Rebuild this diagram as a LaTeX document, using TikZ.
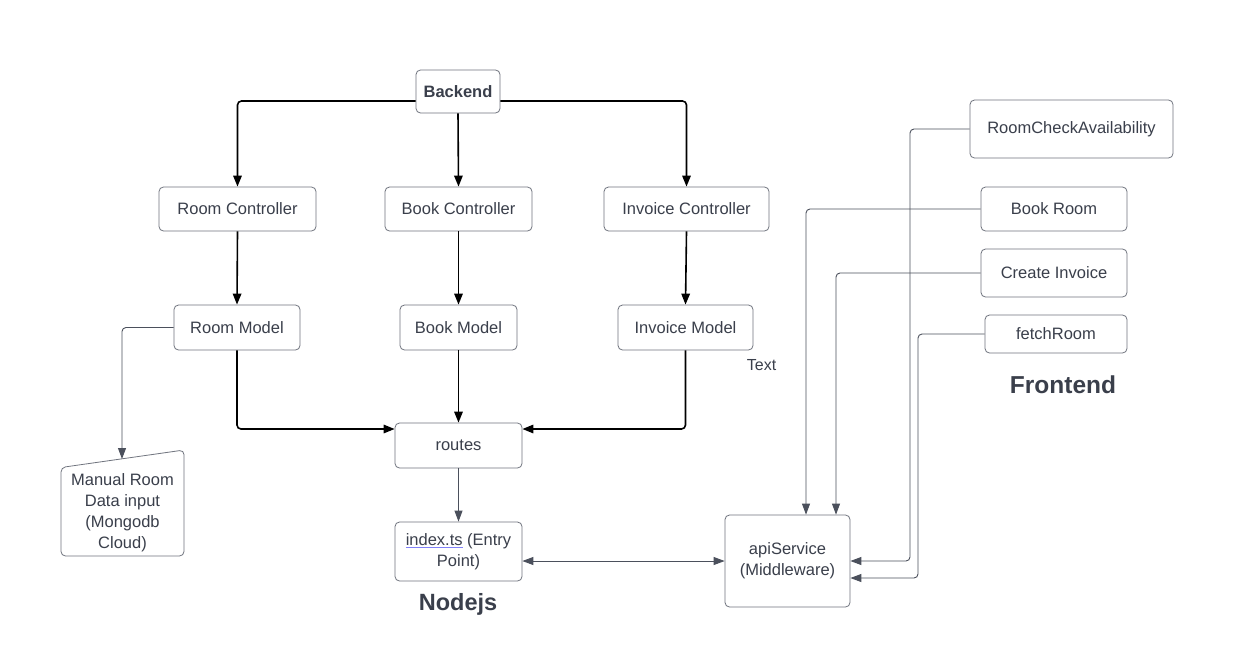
\documentclass[tikz,border=0pt]{standalone}
\usepackage{fontspec}
\setmainfont{Liberation Sans}
\usetikzlibrary{arrows.meta,calc}
\definecolor{txt}{HTML}{3A3F4B}
\definecolor{brd}{HTML}{70747E}
\definecolor{thin}{HTML}{4B505C}
\definecolor{ulc}{HTML}{8080F8}
\newcommand\blueul[1]{\setbox0\hbox{#1}\rlap{\color{ulc}\rule[-3pt]{\wd0}{1pt}}\box0\relax}
\begin{document}
\begin{tikzpicture}[x=1pt,y=-1pt,
  box/.style={draw=brd, line width=0.8pt, rounded corners=4.5pt, text=txt,
     font=\fontsize{16.5}{21}\selectfont, align=center, inner sep=2pt},
  lbl/.style={text=txt, inner sep=0pt},
  bk/.style={draw=black, line width=1.6pt, rounded corners=4pt,
     -{Triangle[length=11pt,width=8.5pt]}},
  tn/.style={draw=thin, line width=0.9pt, rounded corners=4pt,
     -{Triangle[length=11pt,width=8pt]}},
  tnb/.style={draw=thin, line width=0.9pt,
     {Triangle[length=11pt,width=8pt]}-{Triangle[length=11pt,width=8pt]}}]
\useasboundingbox (0,0) rectangle (1249,667);
\fill[white] (0,0) rectangle (1249,667);

% Backend tree
\node[box, minimum width=84pt, minimum height=43pt, font=\fontsize{16.5}{21}\selectfont\bfseries] (backend) at (458,91.5) {Backend};
\node[box, minimum width=157pt, minimum height=44pt] (rc) at (237.5,209) {Room Controller};
\node[box, minimum width=147pt, minimum height=44pt] (bc) at (458.5,209) {Book Controller};
\node[box, minimum width=165pt, minimum height=44pt] (ic) at (686.5,209) {Invoice Controller};
\node[box, minimum width=126pt, minimum height=45pt] (rm) at (237,327.5) {Room Model};
\node[box, minimum width=117pt, minimum height=45pt] (bm) at (458.5,327.5) {Book Model};
\node[box, minimum width=135pt, minimum height=45pt] (im) at (685.5,327.5) {Invoice Model};
\node[box, minimum width=127pt, minimum height=45pt] (routes) at (458.5,445.5) {routes};
\node[box, minimum width=127pt, minimum height=59pt] (index) at (458.5,551.5) {\blueul{index.ts} (Entry\\Point)};
\node[box, minimum width=125pt, minimum height=92pt] (api) at (787.5,561) {apiService\\(Middleware)};

% Manual input shape
\draw[draw=brd, line width=0.8pt, rounded corners=4.5pt] (61,467.5) -- (184,450) -- (184,556) -- (61,556) -- cycle;
\node[lbl, align=center, font=\fontsize{16.5}{21}\selectfont] (manual) at (122.5,512.5) {Manual Room\\Data input\\(Mongodb\\Cloud)};
\coordinate (mtop) at (122,459);

% Frontend
\node[box, minimum width=203pt, minimum height=58pt] (rca) at (1071.5,129) {RoomCheckAvailability};
\node[box, minimum width=146pt, minimum height=44pt] (br) at (1054,209) {Book Room};
\node[box, minimum width=146pt, minimum height=48pt] (ci) at (1054,273) {Create Invoice};
\node[box, minimum width=142pt, minimum height=38pt] (fr) at (1056,334) {fetchRoom};

% Labels
\node[lbl, font=\fontsize{16}{19}\selectfont] (textlbl) at (761.5,365) {Text};
\node[lbl, font=\fontsize{23.5}{28}\selectfont\bfseries] (nodejs) at (458,604) {Nodejs};
\node[lbl, font=\fontsize{24.5}{29}\selectfont\bfseries] (frontend) at (1063,385) {Frontend};

% Backend connectors
\draw[bk] ([yshift=-9.5pt]backend.west) -| (rc.north);
\draw[bk] (backend.south) -- (bc.north);
\draw[bk] ([yshift=-9.5pt]backend.east) -| (ic.north);
\draw[bk] (rc.south) -- (rm.north);
\draw[bk] (bc.south) -- (bm.north);
\draw[bk] (ic.south) -- (im.north);
\draw[bk] (rm.south) |- ([yshift=16.5pt]routes.west);
\draw[bk] (bm.south) -- (routes.north);
\draw[bk] (im.south) |- ([yshift=16.5pt]routes.east);

% Thin connectors
\draw[tn] (rm.west) -| (mtop);
\draw[tn] (routes.south) -- (index.north);
\draw[tnb] ([yshift=-9.5pt]index.east) -- (api.west);

\coordinate (c1) at (910,561);
\coordinate (c2) at (918,578);
\draw[tn] (rca.west) -| (c1) -- (api.east);
\draw[tn] (br.west) -| ([xshift=18.5pt]api.north);
\draw[tn] (ci.west) -| ([xshift=48.5pt]api.north);
\draw[tn] (fr.west) -| (c2) -- ([yshift=-17pt]api.east);
\end{tikzpicture}
\end{document}
